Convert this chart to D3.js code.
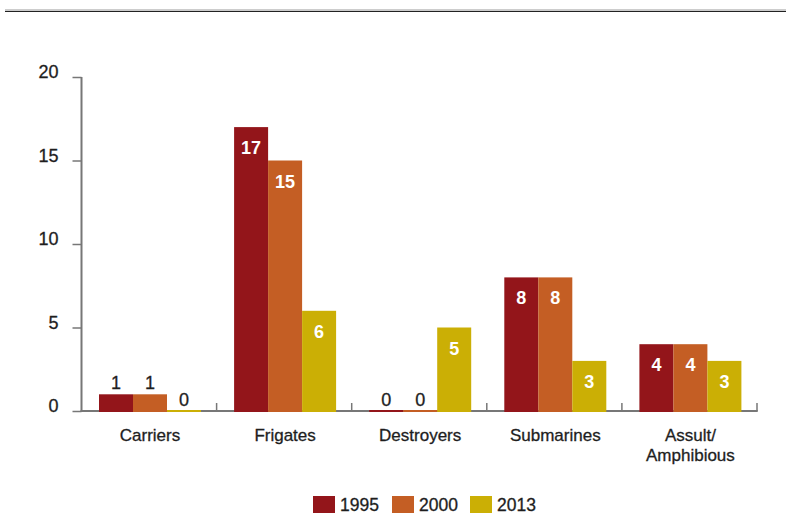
<!DOCTYPE html>
<html>
<head>
<meta charset="utf-8">
<script src="https://cdn.jsdelivr.net/npm/d3@7"></script>
<style>
  html, body { margin: 0; padding: 0; background: #fff; }
  svg { display: block; font-family: "Liberation Sans", Arial, Helvetica, sans-serif; }
  .dark-text { fill: #1e1e1e; stroke: #1e1e1e; stroke-width: 0.3px; }
</style>
</head>
<body>
<svg id="chart" width="786" height="514"></svg>
<script>
// Ship counts by type for three years
const categories = ["Carriers", "Frigates", "Destroyers", "Submarines", "Assult/\nAmphibious"];
const years = ["1995", "2000", "2013"];
const values1995 = [1, 17, 0, 8, 4];
const values2000 = [1, 15, 0, 8, 4];
const values2013 = [0, 6, 5, 3, 3];
const yTicks = [0, 5, 10, 15, 20];
const colors = ["#93151a", "#c45e24", "#cbaf05"];

const series = [values1995, values2000, values2013];

const svg = d3.select("#chart");
const plotLeft = 81.5, plotRight = 757, plotTop = 77, plotBottom = 411;

// Rule across the top of the figure
svg.append("line").attr("x1", 5).attr("x2", 786).attr("y1", 10).attr("y2", 10)
  .attr("stroke", "#9a9a9a").attr("stroke-width", 1);
svg.append("line").attr("x1", 5).attr("x2", 786).attr("y1", 11.5).attr("y2", 11.5)
  .attr("stroke", "#222").attr("stroke-width", 1.2);

const x = d3.scaleBand().domain(categories).range([plotLeft, plotRight]).paddingInner(0).paddingOuter(0);
const xs = d3.scaleBand().domain(years).range([0, 102]);
const y = d3.scaleLinear().domain([0, 20]).range([plotBottom, plotTop]);

// Y axis
const yAxis = svg.append("g").attr("transform", `translate(${plotLeft},0)`)
  .call(d3.axisLeft(y).tickValues(yTicks).tickSize(9).tickPadding(14));
yAxis.select(".domain").attr("stroke", "#777").attr("stroke-width", 2)
  .attr("d", `M0,${plotTop}V${plotBottom + 1}`);
yAxis.selectAll(".tick line").attr("stroke", "#777").attr("stroke-width", 1.5);
yAxis.selectAll(".tick text").attr("class", "dark-text").attr("fill", null).attr("font-size", 18)
  .attr("y", -5).attr("dy", "0.32em");

// X axis baseline with boundary ticks
svg.append("line").attr("x1", plotLeft - 1).attr("x2", plotRight + 0.75).attr("y1", plotBottom).attr("y2", plotBottom)
  .attr("stroke", "#777").attr("stroke-width", 2);
categories.forEach(c => {
  const xe = x(c) + x.bandwidth();
  svg.append("line").attr("x1", xe).attr("x2", xe).attr("y1", plotBottom).attr("y2", plotBottom - 8)
    .attr("stroke", "#777").attr("stroke-width", 1.5);
});

// Bars and value labels
const groups = svg.append("g").selectAll("g").data(categories).join("g")
  .attr("transform", d => `translate(${x(d) + 17.5},0)`);

groups.each(function(cat, i) {
  const g = d3.select(this);
  years.forEach((yr, k) => {
    const v = series[k][i];
    const h = Math.max(plotBottom - y(v), 1);
    g.append("rect")
      .attr("x", xs(yr)).attr("width", xs.bandwidth())
      .attr("y", plotBottom - h).attr("height", h + 1)
      .attr("fill", colors[k]);
    const inside = v >= 3;
    const label = g.append("text")
      .attr("x", xs(yr) + xs.bandwidth() / 2)
      .attr("y", inside ? y(v) + 27 : y(v) - 5)
      .attr("text-anchor", "middle")
      .attr("font-size", 18)
      .text(v);
    if (inside) {
      label.attr("font-family", "'Liberation Sans Narrow', 'Liberation Sans', Arial, sans-serif")
        .attr("font-weight", "bold").attr("fill", "#fff");
    } else {
      label.attr("class", "dark-text");
    }
  });
});

// Category labels
categories.forEach(c => {
  const lines = c.split("\n");
  const cx = x(c) + 17.5 + 51;
  const t = svg.append("text")
    .attr("x", cx).attr("y", 441).attr("class", "dark-text")
    .attr("text-anchor", "middle").attr("font-size", 17);
  lines.forEach((ln, j) => t.append("tspan").attr("x", cx).attr("dy", j ? 19.5 : 0).text(ln));
});

// Legend
const legendX = [313, 392, 470];
years.forEach((yr, k) => {
  svg.append("rect").attr("x", legendX[k]).attr("y", 496).attr("width", 22).attr("height", 17)
    .attr("fill", colors[k]);
  svg.append("text").attr("x", legendX[k] + 27).attr("y", 511).attr("class", "dark-text")
    .attr("font-size", 17.5).text(yr);
});
</script>
</body>
</html>
